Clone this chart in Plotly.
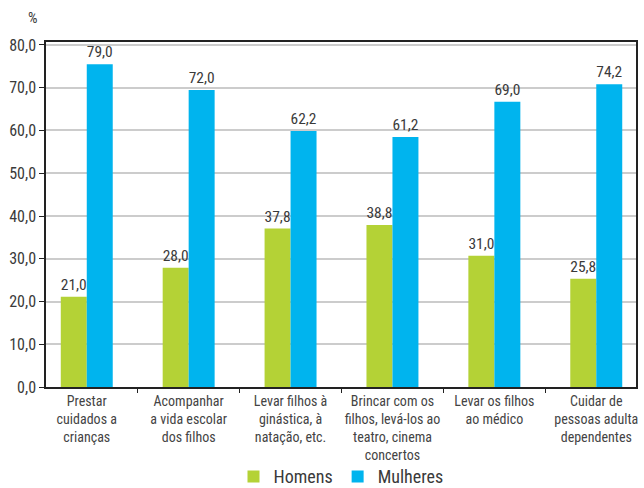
import plotly.graph_objects as go

categories = [
    "Prestar<br>cuidados a<br>crianças",
    "Acompanhar<br>a vida escolar<br>dos filhos",
    "Levar filhos à<br>ginástica, à<br>natação, etc.",
    "Brincar com os<br>filhos, levá-los ao<br>teatro, cinema<br>concertos",
    "Levar os filhos<br>ao médico",
    "Cuidar de<br>pessoas adulta<br>dependentes",
]
# bar heights as drawn in the picture
homens = [21.1, 27.9, 37.1, 37.9, 30.7, 25.3]
mulheres = [75.5, 69.5, 59.9, 58.5, 66.7, 70.8]
# value labels as printed
homens_labels = ["21,0", "28,0", "37,8", "38,8", "31,0", "25,8"]
mulheres_labels = ["79,0", "72,0", "62,2", "61,2", "69,0", "74,2"]
y_ticks = [0, 10, 20, 30, 40, 50, 60, 70, 80]
y_ticktext = ["0,0", "10,0", "20,0", "30,0", "40,0", "50,0", "60,0", "70,0", "80,0"]

FONT = "Liberation Sans Narrow, Roboto Condensed, Roboto, sans-serif"
TXT = "#3a3a3a"

fig = go.Figure()
fig.add_trace(go.Bar(
    x=categories, y=homens, name="Homens", marker_color="#B4D236",
    marker_line_width=0, text=homens_labels, textposition="outside",
    textfont=dict(family=FONT, size=16, color=TXT), cliponaxis=False,
))
fig.add_trace(go.Bar(
    x=categories, y=mulheres, name="Mulheres", marker_color="#00B4EE",
    marker_line_width=0, text=mulheres_labels, textposition="outside",
    textfont=dict(family=FONT, size=16, color=TXT), cliponaxis=False,
))

fig.update_layout(
    width=644, height=488,
    margin=dict(l=46, r=8, t=42, b=101, autoexpand=False),
    paper_bgcolor="white", plot_bgcolor="white",
    barmode="group", bargap=0.49, bargroupgap=0,
    font=dict(family=FONT, color=TXT),
    showlegend=True,
    legend=dict(orientation="h", x=0.5, xanchor="center", y=-0.26, yanchor="middle",
                font=dict(family=FONT, size=18, color=TXT),
                bgcolor="rgba(0,0,0,0)", tracegroupgap=0),
    annotations=[dict(text="%", xref="paper", yref="paper", x=-0.022, y=1.0,
                      yshift=24, showarrow=False, xanchor="center", yanchor="middle",
                      font=dict(family=FONT, size=15, color=TXT))],
)
fig.update_xaxes(
    type="category", range=[-0.4, 5.39], automargin=False, tickangle=0,
    showline=True, linecolor="#222", linewidth=1.5, mirror=True,
    ticks="outside", tickson="boundaries", ticklen=4, tickcolor="#222",
    tickfont=dict(family=FONT, size=14, color="#444"),
    showgrid=False,
)
fig.update_yaxes(
    range=[0, 80.7], tickvals=y_ticks, ticktext=y_ticktext, automargin=False,
    showline=True, linecolor="#222", linewidth=1.5, mirror=True,
    ticks="outside", ticklen=5, tickcolor="#222",
    tickfont=dict(family=FONT, size=16, color=TXT),
    showgrid=True, gridcolor="#cccccc", gridwidth=1.5,
    zeroline=False,
)

fig.write_html("out.html", config={"displayModeBar": False},
               post_script="document.body.style.margin='0';")
